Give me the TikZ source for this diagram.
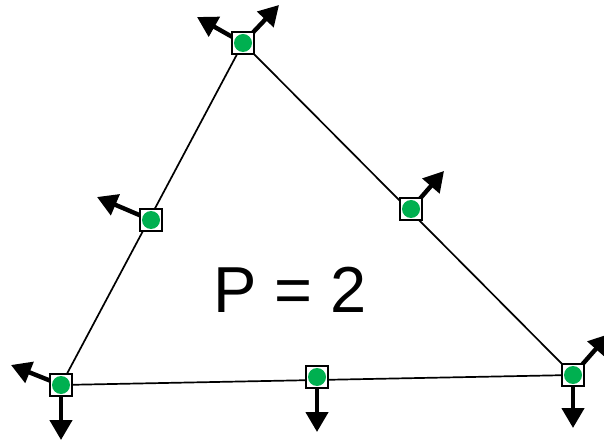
\documentclass[tikz,border=0pt]{standalone}
\usepackage{fontspec}
\setmainfont{Liberation Sans}
\usetikzlibrary{arrows.meta}
\definecolor{dotgreen}{RGB}{0,176,80}
\begin{document}
\begin{tikzpicture}[x=1pt,y=-1pt,
  vtx/.style={draw=black,line width=2.8pt,fill=white,minimum size=22pt,inner sep=0pt,
     path picture={\fill[dotgreen] (path picture bounding box.center) circle (9pt);}},
  edge/.style={line width=1.7pt},
  vec/.style={line width=4.4pt,-{Triangle[length=20pt,width=22pt]}}]
\useasboundingbox (0,0) rectangle (604,443);
\clip (0,0) rectangle (604,443);
% positions
\coordinate (A) at (243,43);
\coordinate (B) at (61,385);
\coordinate (C) at (573,375);
\coordinate (AB) at (151,220);
\coordinate (AC) at (411,209);
\coordinate (BC) at (317,377);
% free ends of arrows
\coordinate (tA1) at (197,17);
\coordinate (tA2) at (279,5);
\coordinate (tB1) at (11,365);
\coordinate (tB2) at (61,440);
\coordinate (tC1) at (573,428);
\coordinate (tC2) at (609,334);
\coordinate (tAB) at (97,197);
\coordinate (tAC) at (444,171);
\coordinate (tBC) at (317,432);
% edges
\draw[edge] (A) -- (B) -- (C) -- cycle;
% arrows
\draw[vec] (A) -- (tA1);
\draw[vec] (A) -- (tA2);
\draw[vec] (B) -- (tB1);
\draw[vec] (B) -- (tB2);
\draw[vec] (C) -- (tC1);
\draw[vec] (C) -- (tC2);
\draw[vec] (AB) -- (tAB);
\draw[vec] (AC) -- (tAC);
\draw[vec] (BC) -- (tBC);
% nodes
\node[vtx] (nA) at (A) {};
\node[vtx] (nB) at (B) {};
\node[vtx] (nC) at (C) {};
\node[vtx] (nAB) at (AB) {};
\node[vtx] (nAC) at (AC) {};
\node[vtx] (nBC) at (BC) {};
\node[anchor=base,inner sep=0pt,font=\fontsize{65}{70}\selectfont] (lbl) at (290,312) {P = 2};
\end{tikzpicture}
\end{document}
